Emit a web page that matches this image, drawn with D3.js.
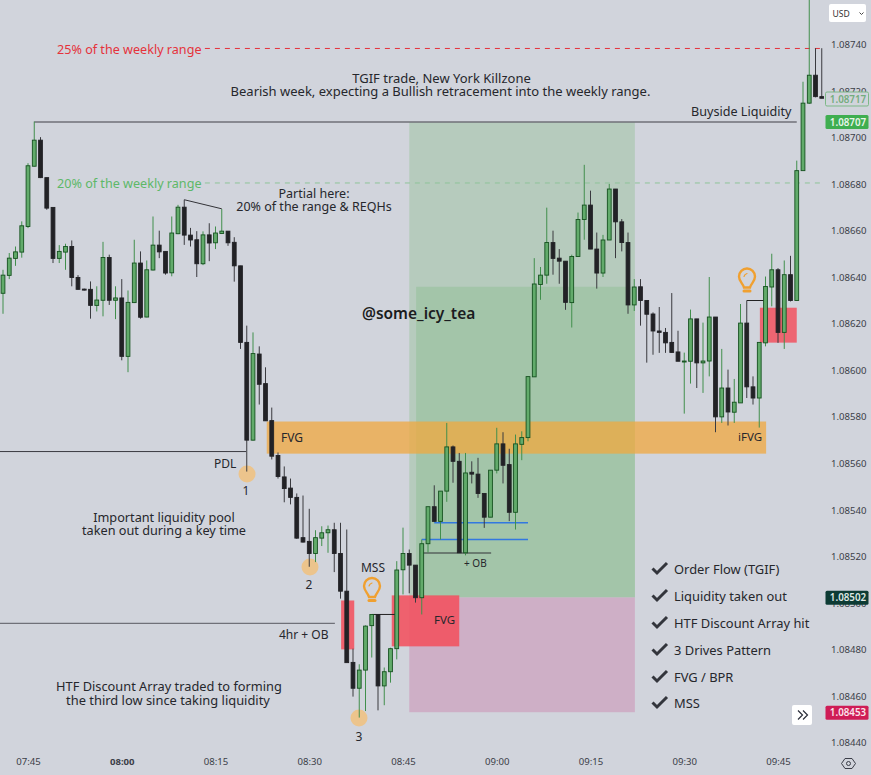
<!DOCTYPE html>
<html><head><meta charset="utf-8">
<script src="https://cdn.jsdelivr.net/npm/d3@7"></script>
<style>html,body{margin:0;padding:0;background:#d1d4dc;overflow:hidden}svg{display:block}text{font-family:"Noto Sans",sans-serif}</style>
</head><body><svg id="c" width="871" height="775"></svg>
<script>
// Prices are given in points above 1.08000 (1 point = 0.00001); time in minutes since midnight.
const firstMinute = 461;
const opens = [633.1,640.8,648.1,650.8,661.8,687.7,698.9,682.8,670.0,648.1,650.8,653.2,639.9,634.9,634.8,627.9,630.1,648.5,630.1,631.1,606.0,629.1,646.1,622.9,643.1,653.8,651.1,641.9,658.7,670.1,658.1,656.1,645.8,658.2,654.8,658.8,659.8,655.0,644.9,
612.0,570.0,607.0,594.3,578.4,563.4,554.2,549.4,545.4,528.1,526.5,521.3,527.9,530.2,531.5,521.3,505.1,474.5,463.4,471.2,490.3,495.1,464.4,470.5,480.4,514.3,521.3,516.3,502.3,525.5,541.4,535.1,548.1,567.1,560.9,521.6,556.2,555.4,547.1,536.9,557.1,568.4,559.5,539.0,568.2,571.1,597.2,636.9,640.9,654.9,648.2,646.9,629.1,648.9,664.8,671.0,652.1,641.8,656.0,677.9,663.8,654.9,628.1,635.9,630.0,624.2,616.9,616.3,612.0,607.9,603.7,603.9,622.1,603.2,604.0,622.9,580.0,592.4,582.0,586.0,620.3,592.9,588.1,611.8,635.8,643.2,616.3,641.1,630.0,685.8,714.8,726.8,717.6];
const highs = [643.2,650.4,653.2,664.0,689.0,706.9,700.2,682.8,670.0,653.8,654.4,655.8,640.9,635.1,638.2,636.1,655.2,649.7,636.1,639.2,634.3,656.1,651.1,647.2,666.1,660.0,651.1,666.1,671.1,673.3,661.2,659.8,659.7,663.2,661.8,669.3,659.8,657.2,644.9,
619.2,616.3,610.3,601.3,584.0,564.7,558.7,553.5,547.1,546.2,540.5,531.3,533.0,533.3,534.5,534.5,531.6,480.4,473.7,490.4,495.1,495.1,472.3,480.8,518.0,532.4,523.0,516.3,527.3,541.4,550.6,548.1,577.4,567.7,564.5,564.5,560.9,562.4,547.1,557.1,575.3,573.4,566.3,572.4,573.8,597.3,648.2,644.4,669.9,660.0,652.1,646.9,649.7,667.8,688.3,677.2,659.2,658.2,680.1,677.9,665.0,659.2,639.2,639.2,630.0,624.9,627.2,618.2,633.2,617.0,607.6,626.1,622.1,620.5,640.1,622.9,609.2,600.3,596.3,628.5,630.0,597.4,612.0,640.3,650.1,643.9,647.2,649.2,690.1,724.0,760.0,738.4,738.4];
const lows = [624.3,639.2,644.9,648.4,661.1,687.6,682.6,669.0,646.1,646.1,643.2,636.1,634.6,634.3,622.2,625.3,623.2,628.1,622.0,604.3,599.2,628.9,622.2,622.8,642.9,648.2,641.1,640.4,658.5,653.9,653.2,640.1,645.2,646.9,652.1,658.7,653.5,638.1,609.2,
556.5,569.8,585.3,578.3,561.7,553.5,543.3,542.4,527.6,526.0,515.6,517.6,524.5,521.6,513.3,501.9,474.4,459.8,450.8,453.6,476.6,453.9,456.1,465.8,475.8,503.7,504.2,500.2,495.1,521.7,534.8,527.3,543.5,551.7,521.6,520.5,551.4,545.2,532.3,536.9,555.7,551.4,535.2,531.6,561.4,569.5,597.2,630.3,637.2,641.1,637.2,626.0,618.4,648.9,656.1,652.1,635.1,640.1,656.0,648.2,651.1,624.3,625.5,619.2,603.3,606.7,607.5,607.5,607.5,603.9,581.4,594.3,592.4,590.3,597.4,573.4,577.4,576.3,577.4,586.0,588.1,585.3,575.4,610.3,627.5,611.8,609.2,629.6,630.0,685.8,714.5,717.3,716.9];
const closes = [640.9,648.2,650.9,662.1,687.9,698.9,682.8,669.7,648.1,651.1,653.2,639.9,634.8,634.6,627.9,630.2,648.5,630.1,631.1,606.0,629.2,646.1,622.8,643.2,653.8,650.9,641.8,659.0,670.1,658.1,656.0,645.8,658.2,654.7,659.0,659.8,654.8,644.9,612.0,
570.0,607.2,594.0,578.3,563.1,554.4,549.2,545.4,527.9,526.2,521.3,528.1,530.2,531.5,521.3,505.1,474.4,463.4,471.2,490.1,495.1,464.4,470.5,480.4,514.2,521.3,516.3,502.3,525.5,541.4,535.1,548.1,567.1,560.9,521.6,555.9,555.4,547.1,536.9,557.1,568.4,559.2,539.0,568.4,571.1,597.3,637.1,640.9,654.9,648.1,646.9,629.2,648.9,664.8,671.0,652.1,641.8,656.0,677.9,663.8,654.9,628.1,635.8,630.0,624.1,616.9,616.3,611.8,607.7,603.9,604.0,622.1,603.2,604.0,622.9,580.0,592.4,582.1,586.3,620.3,592.9,588.1,612.0,636.0,643.2,616.3,641.1,630.0,685.8,714.8,726.8,717.6,716.9];

const priceTicks = [740,720,700,680,660,640,620,600,580,560,540,520,500,480,460,440];
const timeTicks = [465,480,495,510,525,540,555,570,585];
const timeLabels = ["07:45","08:00","08:15","08:30","08:45","09:00","09:15","09:30","09:45"];
const checklist = ["Order Flow (TGIF)","Liquidity taken out","HTF Discount Array hit","3 Drives Pattern","FVG / BPR","MSS"];
const weekly25 = 738.3, weekly20 = 680.5, buyside = 706.7, pdl = 565.1, htfLine = 491.3;
const priceBadges = [["1.08707","#3fae50"],["1.08502","#0d3b34"],["1.08453","#cf1c56"]];

const svg = d3.select("#c");
const x = d3.scaleLinear().domain([465,585]).range([28,778]);
const y = d3.scaleLinear().domain([440,740]).range([742.7,44.5]);
const minute = i => firstMinute + i;
const num = 'Roboto,"Noto Sans",sans-serif';

const box = (t0,t1,top,bot,fill,op=1) => svg.append("rect")
  .attr("x",x(t0)).attr("width",x(t1)-x(t0)).attr("y",y(top)).attr("height",y(bot)-y(top))
  .attr("fill",fill).attr("opacity",op);

// zones
box(526,562.1,706.7,502.4,"#b6cbbd");
box(527.1,562.1,635.9,502.4,"#a3c5a9");
box(526,562.1,502.4,453.1,"#ceafc6");
box(503.2,583.1,578,564.2,"#f0a83f",0.75);
box(523.2,534,503.3,481.4,"#f2515f",0.88);
box(515.1,517.2,501.1,480.1,"#f2515f",0.88);
box(582.1,588,626.9,611.9,"#f2515f",0.85);

// liquidity circles
svg.selectAll("circle.liq").data([[247,474],[310,567],[359,718]]).join("circle")
  .attr("class","liq").attr("cx",d=>d[0]).attr("cy",d=>d[1]).attr("r",8.5).attr("fill","#ecc48c");

// level lines
const hline = (t0,t1,p,stroke,w=1,dash=null)=>svg.append("line")
  .attr("x1",x(t0)).attr("x2",x(t1)).attr("y1",y(p)).attr("y2",y(p))
  .attr("stroke",stroke).attr("stroke-width",w).attr("stroke-dasharray",dash);
hline(466,588,buyside,"#6f7078",1.3);
hline(460.5,499.9,pdl,"#3a3a40",1);
hline(460.5,514.1,htfLine,"#6f7078",1.3);
hline(493.3,592.2,weekly25,"#e5323b",1,"5 5");
hline(493.3,592.2,weekly20,"#8fc49a",1,"5 5");
hline(530,545,534.5,"#3278e0",1.4);
hline(528,545,527.3,"#3278e0",1.4);
hline(528.2,539.1,521.5,"#333338",1.1);
hline(520,523.9,495.1,"#222",1);
hline(580,583.1,630,"#222",1);
svg.append("polyline").attr("points",`${x(490)},${y(673.3)} ${x(496)},${y(669.4)}`).attr("fill","none").attr("stroke","#333338");

// candles
const candles = d3.range(opens.length).map(i=>({t:minute(i),o:opens[i],h:highs[i],l:lows[i],c:closes[i]}));
svg.append("clipPath").attr("id","plot").append("rect").attr("x",0).attr("y",0).attr("width",824).attr("height",750);
const g = svg.append("g").attr("clip-path","url(#plot)");
g.selectAll("line.w").data(candles).join("line").attr("class","w")
  .attr("x1",d=>x(d.t)).attr("x2",d=>x(d.t)).attr("y1",d=>y(d.h)).attr("y2",d=>y(d.l))
  .attr("stroke",d=>d.c>=d.o?"#418f4c":"#3a3a3f").attr("stroke-width",1);
g.selectAll("rect.b").data(candles).join("rect").attr("class","b")
  .attr("x",d=>x(d.t)-1.9).attr("width",3.8)
  .attr("y",d=>y(Math.max(d.o,d.c))).attr("height",d=>Math.max(1,Math.abs(y(d.o)-y(d.c))))
  .attr("fill",d=>d.c>=d.o?"#62ab6b":"#222226")
  .attr("stroke",d=>d.c>=d.o?"#15501f":"#222226").attr("stroke-width",0.9);

// axes
const yAxis = d3.axisRight(y).tickValues(priceTicks).tickSize(0).tickPadding(0)
  .tickFormat(d=>(1.08+d/1e5).toFixed(5));
const ya = svg.append("g").attr("transform","translate(831,0)").call(yAxis);
ya.select(".domain").remove();
ya.selectAll("text").attr("font-size",9.6).attr("fill","#3b3e48").attr("font-family",num);
const xAxis = d3.axisBottom(x).tickValues(timeTicks).tickSize(0).tickPadding(0)
  .tickFormat((d,i)=>timeLabels[i]);
const xa = svg.append("g").attr("transform","translate(0,758)").call(xAxis);
xa.select(".domain").remove();
xa.selectAll("text").attr("font-size",9.6).attr("fill","#3b3e48").attr("font-family",num)
  .attr("font-weight",d=>d===480?700:400);

// badges
const badge=(yy,fill,stroke,txt,color)=>{
  svg.append("rect").attr("x",825.5).attr("y",yy-7).attr("width",43).attr("height",14).attr("rx",1.5)
    .attr("fill",fill).attr("stroke",stroke||"none");
  svg.append("text").attr("x",848).attr("y",yy+3.5).attr("text-anchor","middle").attr("font-size",9.8)
    .attr("font-family",num).attr("fill",color).attr("font-weight",600).text(txt);
};
badge(99,"#d1d4dc","#7db887","1.08717","#74ad7e");
badge(122,priceBadges[0][1],null,priceBadges[0][0],"#e8f5ea");
badge(597.8,priceBadges[1][1],null,priceBadges[1][0],"#dfe8e5");
badge(712.8,priceBadges[2][1],null,priceBadges[2][0],"#fbe4ec");

// annotations
const note=(px,py,s,size=12.6,fill="#26272c",anchor="start",weight=400)=>svg.append("text")
  .attr("x",px).attr("y",py).attr("font-size",size).attr("fill",fill).attr("text-anchor",anchor)
  .attr("font-weight",weight).text(s);
note(57,54,"25% of the weekly range",12.6,"#e5323b");
note(57,188,"20% of the weekly range",12.6,"#5db868");
note(441.5,83,"TGIF trade, New York Killzone",13,"#26272c","middle");
note(440.5,96,"Bearish week, expecting a Bullish retracement into the weekly range.",13,"#26272c","middle");
note(691,116,"Buyside Liquidity",12.6);
note(314,198,"Partial here:",12.5,"#26272c","middle");
note(314,211,"20% of the range & REQHs",12.5,"#26272c","middle");
note(281,442,"FVG",12);
note(738,441,"iFVG",11.5);
note(214,468,"PDL",12);
note(246,495,"1",12,"#26272c","middle");
note(309,589,"2",12,"#26272c","middle");
note(359,741,"3",12,"#26272c","middle");
note(373,572,"MSS",12,"#26272c","middle");
note(279,639,"4hr + OB",12);
note(434,624,"FVG",11.5);
note(464,567,"+ OB",10);
note(164,522,"Important liquidity pool",12.7,"#26272c","middle");
note(164,535,"taken out during a key time",12.7,"#26272c","middle");
note(169,691,"HTF Discount Array traded to forming",12.8,"#26272c","middle");
note(168,705,"the third low since taking liquidity",12.9,"#26272c","middle");
note(362,319,"@some_icy_tea",15.5,"#1b1c20","start",600);

// checklist
const rows=[569,596,623,650,677,703];
checklist.forEach((s,i)=>{
  svg.append("path").attr("d",`M652.5 ${rows[i]-0.5} l4.5 4.5 l10 -10`).attr("fill","none")
    .attr("stroke","#33353c").attr("stroke-width",3);
  note(674,rows[i]+4.5,s,12.9,"#26272c");
});

// bulbs
const bulb=(cx,cy)=>{
  const b=svg.append("g").attr("transform",`translate(${cx},${cy})`).attr("fill","none")
    .attr("stroke","#f0a030").attr("stroke-width",2.4).attr("stroke-linecap","round");
  b.append("path").attr("d","M-3 9 C-4 5,-8 3,-8 -2 A8 8 0 1 1 8 -2 C8 3,4 5,3 9 Z");
  b.append("path").attr("d","M-3 12.5 H3").attr("stroke-width",3);
  b.append("path").attr("d","M-3 -2 A4 4 0 0 1 0 -5").attr("stroke-width",1.2);
};
bulb(372,588);
bulb(747,278.5);

// controls
svg.append("rect").attr("x",829).attr("y",4).attr("width",37).attr("height",18).attr("rx",2).attr("fill","#fff");
note(832.5,17,"USD",8.6,"#333");
svg.append("path").attr("d","M859.5 12.5 l2 2 l2 -2").attr("fill","none").attr("stroke","#444");
svg.append("rect").attr("x",792).attr("y",705).attr("width",20).attr("height",20).attr("rx",2).attr("fill","#fff");
svg.append("path").attr("d","M798 710.5 l4.5 4.5 l-4.5 4.5 M803 710.5 l4.5 4.5 l-4.5 4.5").attr("fill","none").attr("stroke","#2a2e39").attr("stroke-width",1.2);
svg.append("path").attr("d","M845 758.5 h7 l3.5 5 l-3.5 5 h-7 l-3.5 -5 Z").attr("fill","none").attr("stroke","#3b3e48");
svg.append("circle").attr("cx",848.5).attr("cy",763.5).attr("r",2).attr("fill","none").attr("stroke","#3b3e48");
</script></body></html>
